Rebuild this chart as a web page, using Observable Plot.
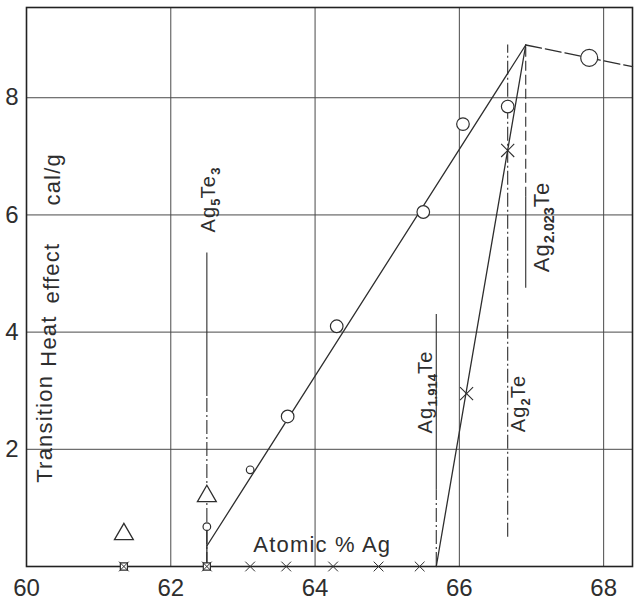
<!DOCTYPE html>
<html>
<head>
<meta charset="utf-8">
<script src="https://cdn.jsdelivr.net/npm/d3@7"></script>
<script src="https://cdn.jsdelivr.net/npm/@observablehq/plot@0.6"></script>
<style>
  html, body { margin: 0; padding: 0; background: #fff; }
  #chart { width: 636px; height: 604px; }
</style>
</head>
<body>
<div id="chart"></div>
<script>
// ---- axes / ticks ----
const xTicks = [60, 62, 64, 66, 68];
const yTicks = [2, 4, 6, 8];
const xGrid = [62, 64, 66, 68];

// ---- measured points (Atomic % Ag, cal/g) ----
const baselineCrossX = [61.35, 62.5, 63.1, 63.6, 64.25, 64.88, 65.45];
const baselineSquareX = [61.35, 62.5];
const triangleX = [61.35, 62.5];
const triangleY = [0.55, 1.2];
const smallCircleX = [62.5, 63.1];
const smallCircleY = [0.68, 1.65];
const circleX = [63.62, 64.3, 65.5, 66.05, 66.67];
const circleY = [2.56, 4.1, 6.05, 7.55, 7.85];
const bigCircleX = [67.8];
const bigCircleY = [8.68];
const crossX = [66.1, 66.67];
const crossY = [2.95, 7.1];

// ---- fitted lines ----
const line1X = [62.5, 66.92];
const line1Y = [0.35, 8.9];
const line2X = [65.68, 66.92];
const line2Y = [0, 8.9];
const stemX = [62.5, 62.5];
const stemY = [0, 0.65];
const tailX = [66.92, 68.4];
const tailY = [8.9, 8.53];

// ---- phase composition markers ----
const solidRuleX = [62.5, 65.68, 66.92];
const solidRuleY1 = [2.9, 1.3, 4.75];
const solidRuleY2 = [5.35, 4.3, 6.3];
const dashDotRuleX = [62.5, 65.68, 66.67];
const dashDotRuleY1 = [0, 0, 0.5];
const dashDotRuleY2 = [2.9, 1.3, 8.9];
const dashedRuleX = [66.92];
const dashedRuleY1 = [6.3];
const dashedRuleY2 = [8.9];

const phaseLabels = ["Ag_{5}Te_{3}", "Ag_{1.914}Te", "Ag_{2}Te", "Ag_{2.023}Te"];
const phaseLabelX = [62.52, 65.53, 66.82, 67.14];
const phaseLabelY = [5.7, 2.27, 2.29, 5.02];

// ---- axis titles (drawn inside the frame) ----
const yTitleWords = ["Transition", "Heat", "effect", "cal/g"];
const yTitleX = [60.26, 60.31, 60.35, 60.36];
const yTitleY = [1.43, 3.41, 4.49, 6.16];
const xTitle = ["Atomic % Ag"];
const xTitleX = [64.1];
const xTitleY = [0.36];

// helpers
const pts = (xs, ys) => xs.map((x, i) => ({x, y: ys[i]}));
const rules = (xs, y1s, y2s) => xs.map((x, i) => ({x, y1: y1s[i], y2: y2s[i]}));
const INK = "#2e2e2e";

const plot = Plot.plot({
  width: 636,
  height: 604,
  marginLeft: 26,
  marginRight: 4,
  marginTop: 7,
  marginBottom: 38,
  x: {domain: [60, 68.4], axis: null},
  y: {domain: [0, 9.54], axis: null},
  style: {fontFamily: "'Liberation Sans', Arial, sans-serif", fontSize: "24px", color: INK, background: "#fff", overflow: "visible"},
  marks: [
    Plot.gridX(xGrid, {stroke: "#4a4a4a", strokeOpacity: 1, strokeWidth: 1}),
    Plot.gridY(yTicks, {stroke: "#4a4a4a", strokeOpacity: 1, strokeWidth: 1}),
    Plot.frame({stroke: "#222", strokeWidth: 1.6}),

    // phase composition lines
    Plot.ruleX(rules(solidRuleX, solidRuleY1, solidRuleY2), {x: "x", y1: "y1", y2: "y2", stroke: INK, strokeWidth: 1.1}),
    Plot.ruleX(rules(dashDotRuleX, dashDotRuleY1, dashDotRuleY2), {x: "x", y1: "y1", y2: "y2", stroke: INK, strokeWidth: 1.1, strokeDasharray: "14,3,2,3"}),
    Plot.ruleX(rules(dashedRuleX, dashedRuleY1, dashedRuleY2), {x: "x", y1: "y1", y2: "y2", stroke: INK, strokeWidth: 1.1, strokeDasharray: "10,4"}),

    // fitted lines
    Plot.line(pts(line1X, line1Y), {x: "x", y: "y", stroke: INK, strokeWidth: 1.3}),
    Plot.line(pts(line2X, line2Y), {x: "x", y: "y", stroke: INK, strokeWidth: 1.3}),
    Plot.line(pts(stemX, stemY), {x: "x", y: "y", stroke: INK, strokeWidth: 1.3}),
    Plot.line(pts(tailX, tailY), {x: "x", y: "y", stroke: INK, strokeWidth: 1.3, strokeDasharray: "16,4"}),

    // markers
    Plot.dot(baselineSquareX.map(x => ({x, y: 0})), {x: "x", y: "y", symbol: "square", r: 4, fill: "#fff", stroke: INK, strokeWidth: 1.2}),
    Plot.dot(baselineCrossX.map(x => ({x, y: 0})), {x: "x", y: "y", symbol: "times", r: 4.5, fill: "none", stroke: INK, strokeWidth: 1}),
    Plot.dot(pts(triangleX, triangleY), {x: "x", y: "y", symbol: "triangle", r: 7, fill: "#fff", stroke: INK, strokeWidth: 1.3}),
    Plot.dot(pts(smallCircleX, smallCircleY), {x: "x", y: "y", r: 3.8, fill: "#fff", stroke: INK, strokeWidth: 1.2}),
    Plot.dot(pts(circleX, circleY), {x: "x", y: "y", r: 6.3, fill: "#fff", stroke: INK, strokeWidth: 1.2}),
    Plot.dot(pts(bigCircleX, bigCircleY), {x: "x", y: "y", r: 8.5, fill: "#fff", stroke: INK, strokeWidth: 1.2}),
    Plot.dot(pts(crossX, crossY), {x: "x", y: "y", symbol: "times", r: 6, fill: "none", stroke: INK, strokeWidth: 1.1}),

    // phase labels
    Plot.text(phaseLabels.map((t, i) => ({t, x: phaseLabelX[i], y: phaseLabelY[i], big: i === 3})), {
      x: "x", y: "y", text: "t", rotate: -90, textAnchor: "start", lineAnchor: "middle",
      fontSize: d => d.big ? 22 : 20, fill: INK
    }),

    // axis titles
    Plot.text(yTitleWords.map((t, i) => ({t, x: yTitleX[i], y: yTitleY[i]})), {
      x: "x", y: "y", text: "t", rotate: -90, textAnchor: "start", lineAnchor: "middle", fontSize: 22, fill: INK
    }),
    Plot.text(xTitle.map((t, i) => ({t, x: xTitleX[i], y: xTitleY[i]})), {
      x: "x", y: "y", text: "t", textAnchor: "middle", lineAnchor: "middle", fontSize: 22, fill: INK
    }),

    // tick labels
    Plot.axisX(xTicks, {tickSize: 0, tickPadding: 12, fontSize: 24, label: null, fill: INK, tickFormat: d => String(d)}),
    Plot.axisY(yTicks, {tickSize: 0, tickPadding: 8, fontSize: 24, label: null, fill: INK, tickFormat: d => String(d)})
  ]
});

document.getElementById("chart").appendChild(plot);

// letter spacing for annotation texts, subscripts for formulas
d3.select(plot).selectAll('g[aria-label="text"] text').style("letter-spacing", "1.2px");
d3.select(plot).selectAll("text").each(function () {
  const t = this.textContent;
  if (!t.includes("_{")) return;
  const fs = parseFloat(getComputedStyle(this).fontSize) || 20;
  const subFs = fs * 0.65, shift = fs * 0.24;
  this.textContent = "";
  const re = /_\{([^}]*)\}|([^_]+)/g;
  let m, down = false;
  while ((m = re.exec(t))) {
    const ts = document.createElementNS("http://www.w3.org/2000/svg", "tspan");
    if (m[1] !== undefined) {
      ts.textContent = m[1];
      ts.setAttribute("font-size", subFs);
      ts.setAttribute("font-weight", "bold");
      ts.style.letterSpacing = "0px";
      if (!down) { ts.setAttribute("dy", shift); down = true; }
    } else {
      ts.textContent = m[2];
      if (down) { ts.setAttribute("dy", -shift); down = false; }
    }
    this.appendChild(ts);
  }
});
</script>
</body>
</html>
